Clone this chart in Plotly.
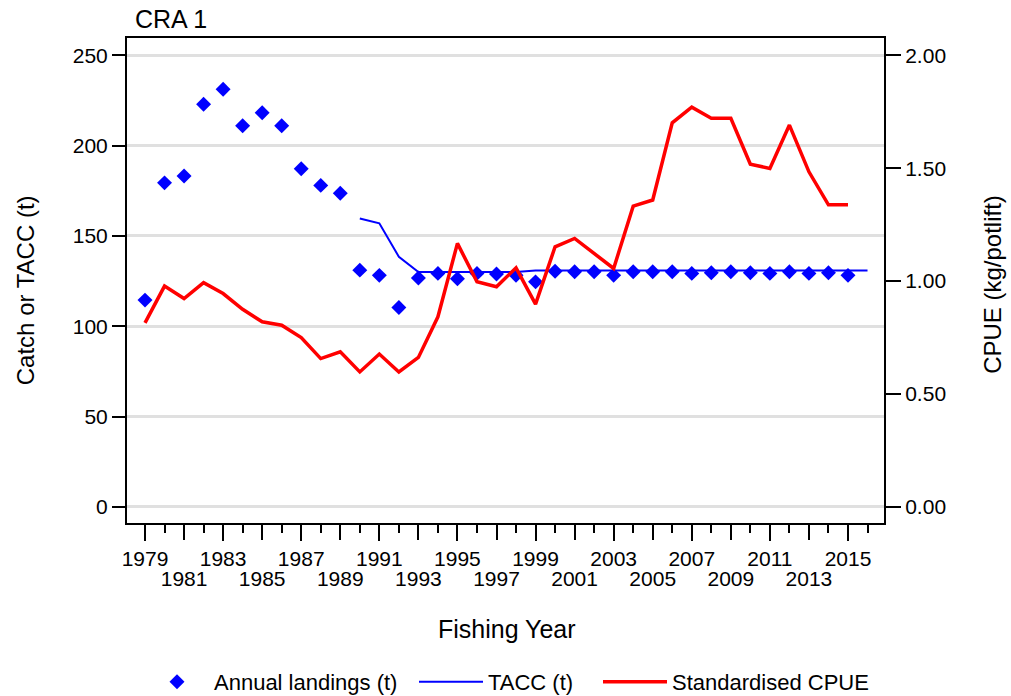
import plotly.graph_objects as go

# Fishing years and series
years = list(range(1979, 2016))
landings = [114.5, 179.4, 183.2, 222.9, 231.2, 211.0, 218.2, 211.0, 187.2, 178.0, 173.6,
            131.1, 128.2, 110.4, 126.8, 129.3, 126.3, 129.3, 128.9, 128.3, 124.6,
            130.5, 130.2, 130.2, 128.2, 130.2, 130.2, 130.2, 129.3, 129.6, 130.2,
            129.6, 129.3, 130.2, 129.3, 129.6, 128.2]

tacc_years = list(range(1990, 2017))
tacc = [159.7, 157.0, 138.5, 130.0, 130.0, 130.0, 130.0, 130.0, 130.0,
        130.9, 130.9, 130.9, 130.9, 130.9, 130.9, 130.9, 130.9, 130.9, 130.9,
        130.9, 130.9, 130.9, 130.9, 130.9, 130.9, 130.9, 130.9]

cpue = [0.815, 0.978, 0.923, 0.993, 0.945, 0.875, 0.820, 0.805, 0.750, 0.657, 0.687,
        0.598, 0.677, 0.598, 0.662, 0.842, 1.167, 0.997, 0.975, 1.059, 0.898,
        1.152, 1.189, 1.123, 1.056, 1.332, 1.359, 1.701, 1.770, 1.721, 1.721,
        1.518, 1.499, 1.691, 1.484, 1.338, 1.338]

# Axis ticks
upper_row_years = list(range(1979, 2016, 4))
lower_row_years = list(range(1981, 2016, 4))
minor_years = list(range(1980, 2017, 2))
left_ticks = [0, 50, 100, 150, 200, 250]
right_ticks = [0.0, 0.5, 1.0, 1.5, 2.0]

FONT = "Arial, Liberation Sans, sans-serif"
TICK_SIZE = 21
X_RANGE = [1978.078, 2016.844]

fig = go.Figure()

fig.add_trace(go.Scatter(
    x=years, y=landings, mode="markers", name="Annual landings (t)",
    marker=dict(symbol="diamond", size=11.5, color="#0000ff"),
    xaxis="x", yaxis="y", legend="legend",
))
fig.add_trace(go.Scatter(
    x=tacc_years, y=tacc, mode="lines", name="TACC (t)",
    line=dict(color="#0000ff", width=2),
    xaxis="x", yaxis="y", legend="legend2",
))
fig.add_trace(go.Scatter(
    x=years, y=cpue, mode="lines", name="Standardised CPUE",
    line=dict(color="#ff0000", width=3.5),
    xaxis="x", yaxis="y2", legend="legend3",
))
# empty trace so the second row of year labels gets its own axis
fig.add_trace(go.Scatter(x=[], y=[], xaxis="x3", yaxis="y", showlegend=False,
                         hoverinfo="skip"))

axis_common = dict(showline=True, linecolor="black", linewidth=2,
                   ticks="outside", tickcolor="black", tickwidth=2,
                   tickfont=dict(family=FONT, size=TICK_SIZE, color="black"),
                   zeroline=False, automargin=False)


def legend_box(x_px):
    return dict(
        orientation="h", xref="container", yref="container",
        x=x_px / 1011, xanchor="left", y=(696 - 682) / 696, yanchor="middle",
        font=dict(family=FONT, size=22, color="black"), itemwidth=64,
        bgcolor="rgba(0,0,0,0)",
    )


fig.update_layout(
    width=1011, height=696,
    margin=dict(l=127, r=127, t=38, b=173),
    plot_bgcolor="white", paper_bgcolor="white",
    font=dict(family=FONT, size=20, color="black"),
    xaxis=dict(
        **axis_common, range=X_RANGE, mirror=True, showgrid=False,
        tickmode="array", tickvals=upper_row_years, ticklen=16,
        ticklabelstandoff=0,
        minor=dict(tickmode="array", tickvals=minor_years, ticklen=8,
                   tickwidth=2, tickcolor="black", ticks="outside", showgrid=False),
    ),
    xaxis3=dict(
        overlaying="x", anchor="y", side="bottom", range=X_RANGE,
        showline=False, showgrid=False, zeroline=False, automargin=False,
        ticks="outside", ticklen=16, tickwidth=2, tickcolor="black",
        tickmode="array", tickvals=lower_row_years,
        tickfont=dict(family=FONT, size=TICK_SIZE, color="black"),
        ticklabelstandoff=21,
    ),
    yaxis=dict(
        **axis_common, range=[-8.86, 259.58], mirror=False,
        tickmode="array", tickvals=left_ticks, ticklen=13,
        showgrid=True, gridcolor="#e0e0e0", gridwidth=2.5,
    ),
    yaxis2=dict(
        **axis_common, range=[-0.0709, 2.0764], overlaying="y", side="right",
        anchor="x", tickmode="array", tickvals=right_ticks, tickformat=".2f",
        ticklen=15, showgrid=False,
    ),
    legend=legend_box(140),
    legend2=legend_box(414),
    legend3=legend_box(598),
    showlegend=True,
)

# Titles
fig.add_annotation(text="CRA 1", xref="paper", yref="paper", x=0.0079, y=1.039,
                   xanchor="left", yanchor="middle", showarrow=False,
                   font=dict(family=FONT, size=25, color="black"))
fig.add_annotation(text="Catch or TACC (t)", xref="paper", yref="paper",
                   x=-0.1347, y=0.48, xanchor="center", yanchor="middle",
                   textangle=-90, showarrow=False,
                   font=dict(family=FONT, size=24, color="black"))
fig.add_annotation(text="CPUE (kg/potlift)", xref="paper", yref="paper",
                   x=1.144, y=0.491, xanchor="center", yanchor="middle",
                   textangle=-90, showarrow=False,
                   font=dict(family=FONT, size=24, color="black"))
fig.add_annotation(text="Fishing Year", xref="paper", yref="paper",
                   x=0.502, y=-0.2186, xanchor="center", yanchor="middle",
                   showarrow=False, font=dict(family=FONT, size=25, color="black"))

fig.write_html("out.html")
